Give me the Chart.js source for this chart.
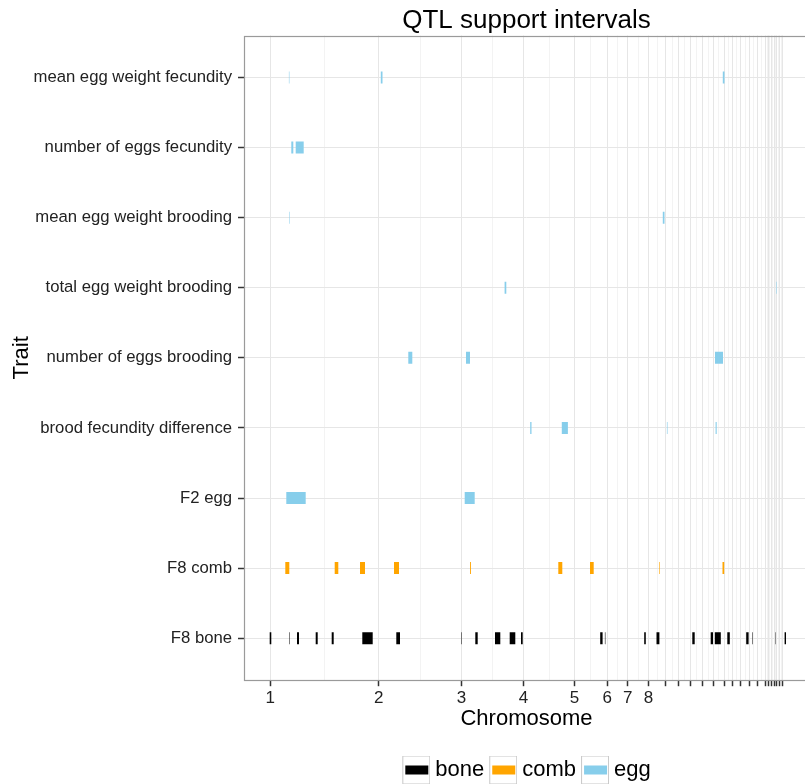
<!DOCTYPE html>
<html>
<head>
<meta charset="utf-8">
<script src="https://cdn.jsdelivr.net/npm/chart.js@4.4.0/dist/chart.umd.min.js"></script>
<style>
html, body { margin: 0; padding: 0; overflow: hidden; background: #fff; width: 805px; height: 784px; }
#wrap { position: absolute; left: 0; top: 0; width: 812px; height: 791px; }
</style>
</head>
<body>
<div id="wrap"><canvas id="c"></canvas></div>
<script>
// ---- Data (positions along the concatenated genome) ----
const traits = [
  'mean egg weight fecundity',
  'number of eggs fecundity',
  'mean egg weight brooding',
  'total egg weight brooding',
  'number of eggs brooding',
  'brood fecundity difference',
  'F2 egg',
  'F8 comb',
  'F8 bone'
];

// chromosome start positions and their tick labels
const chromosomeStarts = [0, 216.8, 382.6, 506.6, 608.2, 673.8, 714.8, 756.6, 790.6, 817.2,
  841, 864.8, 886.4, 908, 924.6, 941.2, 957.8, 974.4, 990.2, 996.6,
  1001.8, 1007.6, 1013.2, 1019, 1024.8];
const chromosomeLabels = ['1', '2', '3', '4', '5', '6', '7', '8', '', '',
  '', '', '', '', '', '', '', '', '', '',
  '', '', '', '', ''];

// support intervals [start, end]
const boneF8 = [[-1.2, 2.0], [37.6, 38.6], [53.4, 57.4], [90.8, 94.8], [122.8, 126.8],
  [184.0, 204.8], [252.0, 259.4], [381.6, 382.6], [410.0, 414.8], [449.4, 460.0],
  [478.8, 490.0], [501.4, 504.8], [659.8, 664.6], [669.2, 670.2], [747.8, 751.0],
  [772.4, 778.2], [844.0, 848.8], [880.8, 885.4], [889.0, 901.0], [914.0, 919.0],
  [951.8, 956.6], [963.6, 964.6], [1010.2, 1011.0], [1028.6, 1031.4]];
const combF8 = [[30.0, 38.0], [128.8, 136.0], [179.4, 189.4], [247.4, 257.4], [399.6, 401.4],
  [576.0, 584.0], [639.4, 646.8], [778.2, 779.4], [904.4, 907.8]];
const eggMeanWeightFecundity = [[37.2, 38.2], [221.0, 224.4], [905.0, 908.4]];
const eggNumberFecundity = [[42.0, 46.0], [50.8, 66.8]];
const eggMeanWeightBrooding = [[37.6, 38.6], [785.0, 788.4]];
const eggTotalWeightBrooding = [[468.6, 472.0], [1011.4, 1012.4]];
const eggNumberBrooding = [[276.0, 284.0], [391.4, 399.4], [889.4, 905.4]];
const eggBroodFecundityDiff = [[519.8, 522.4], [583.0, 595.2], [793.2, 794.4], [890.6, 892.8]];
const eggF2 = [[32.0, 70.8], [388.8, 408.8]];

const seriesNames = ['bone', 'comb', 'egg'];
const seriesColors = ['#000000', '#FFA500', '#87CEEB'];

// ---- Build chart structures ----
const FONT = "'Liberation Sans', Arial, Helvetica, sans-serif";

function toPoints(list, traitName) {
  const yi = traits.indexOf(traitName);
  return list.map(([s, e]) => ({ x: [s, e], y: yi }));
}

const boneData = toPoints(boneF8, 'F8 bone');
const combData = toPoints(combF8, 'F8 comb');
const eggData = [].concat(
  toPoints(eggMeanWeightFecundity, 'mean egg weight fecundity'),
  toPoints(eggNumberFecundity, 'number of eggs fecundity'),
  toPoints(eggMeanWeightBrooding, 'mean egg weight brooding'),
  toPoints(eggTotalWeightBrooding, 'total egg weight brooding'),
  toPoints(eggNumberBrooding, 'number of eggs brooding'),
  toPoints(eggBroodFecundityDiff, 'brood fecundity difference'),
  toPoints(eggF2, 'F2 egg')
);

// x ticks: majors at chromosome starts, minors halfway between
const xTicks = [];
chromosomeStarts.forEach((v, i) => {
  xTicks.push({ value: v, lab: chromosomeLabels[i], isMinor: false });
  if (i < chromosomeStarts.length - 1) {
    xTicks.push({ value: (v + chromosomeStarts[i + 1]) / 2, lab: '', isMinor: true });
  }
});

function keyImage(color) {
  const c = document.createElement('canvas');
  c.width = 34; c.height = 29;
  const g = c.getContext('2d');
  g.fillStyle = '#ffffff';
  g.fillRect(6, 0, 28, 29);
  g.strokeStyle = '#c8c8c8';
  g.lineWidth = 1;
  g.strokeRect(6.5, 0.5, 27, 28);
  g.fillStyle = color;
  g.fillRect(9, 10, 23, 9);
  return c;
}
const keyImages = seriesColors.map(keyImage);

const panelBorder = {
  id: 'panelBorder',
  afterDatasetsDraw(chart) {
    const { ctx, chartArea: a } = chart;
    ctx.save();
    ctx.strokeStyle = '#9a9a9a';
    ctx.lineWidth = 1.2;
    ctx.strokeRect(Math.round(a.left) + 0.5, Math.round(a.top) + 0.5,
      a.right - a.left, Math.round(a.bottom) - Math.round(a.top));
    ctx.restore();
  }
};

new Chart(document.getElementById('c'), {
  type: 'bar',
  data: {
    datasets: [
      { label: seriesNames[0], data: boneData, backgroundColor: seriesColors[0] },
      { label: seriesNames[1], data: combData, backgroundColor: seriesColors[1] },
      { label: seriesNames[2], data: eggData, backgroundColor: seriesColors[2] }
    ]
  },
  options: {
    indexAxis: 'y',
    responsive: true,
    maintainAspectRatio: false,
    animation: false,
    devicePixelRatio: 1,
    layout: { padding: { left: 0, right: 3, top: 0, bottom: 0 } },
    datasets: {
      bar: { grouped: false, barThickness: 12, inflateAmount: 0, borderWidth: 0 }
    },
    scales: {
      x: {
        type: 'linear',
        position: 'bottom',
        min: -52.6,
        max: 1077.4,
        bounds: 'data',
        offset: false,
        afterBuildTicks: s => { s.ticks = xTicks.map(t => Object.assign({}, t)); },
        ticks: {
          autoSkip: false, maxRotation: 0, minRotation: 0, padding: 3.8,
          font: { family: FONT, size: 17, lineHeight: 1 }, color: '#222',
          callback: (v, i, ticks) => ticks[i].lab
        },
        grid: {
          offset: false,
          color: c => (c.tick && c.tick.isMinor) ? '#f3f3f3' : '#e6e6e6',
          lineWidth: 1,
          tickLength: 6,
          tickColor: c => (c.tick && c.tick.isMinor) ? 'rgba(0,0,0,0)' : '#333',
          tickWidth: 1.5
        },
        border: { display: false },
        title: {
          display: true, text: 'Chromosome', color: '#000',
          font: { family: FONT, size: 22, lineHeight: 1 },
          padding: { top: -3, bottom: 24.2 }
        }
      },
      y: {
        type: 'linear',
        reverse: true,
        min: -0.6,
        max: 8.6,
        bounds: 'data',
        offset: false,
        afterBuildTicks: s => { s.ticks = traits.map((t, i) => ({ value: i })); },
        afterFit: s => { s.width = 244; },
        ticks: {
          autoSkip: false, padding: 6,
          font: { family: FONT, size: 16.7 }, color: '#222',
          callback: v => traits[v]
        },
        grid: { offset: false, color: '#e6e6e6', lineWidth: 1, tickLength: 6, tickColor: '#333', tickWidth: 1.5 },
        border: { display: false },
        title: {
          display: true, text: 'Trait', color: '#000',
          font: { family: FONT, size: 22, lineHeight: 1 },
          padding: { top: 11, bottom: 0 }
        }
      }
    },
    plugins: {
      title: {
        display: true, text: 'QTL support intervals', color: '#000', fullSize: false,
        font: { family: FONT, size: 26, lineHeight: 1, weight: 'normal' },
        padding: { top: 8, bottom: 1.5 }
      },
      legend: {
        display: true, position: 'bottom', fullSize: false,
        labels: {
          usePointStyle: true, pointStyleWidth: 22, padding: 5, color: '#000',
          font: { family: FONT, size: 22 },
          generateLabels: chart => chart.data.datasets.map((ds, i) => ({
            text: ds.label, pointStyle: keyImages[i], fillStyle: ds.backgroundColor,
            strokeStyle: 'rgba(0,0,0,0)', lineWidth: 0, hidden: false, datasetIndex: i, fontColor: '#000'
          }))
        }
      },
      tooltip: { enabled: false }
    }
  },
  plugins: [panelBorder]
});
</script>
</body>
</html>
